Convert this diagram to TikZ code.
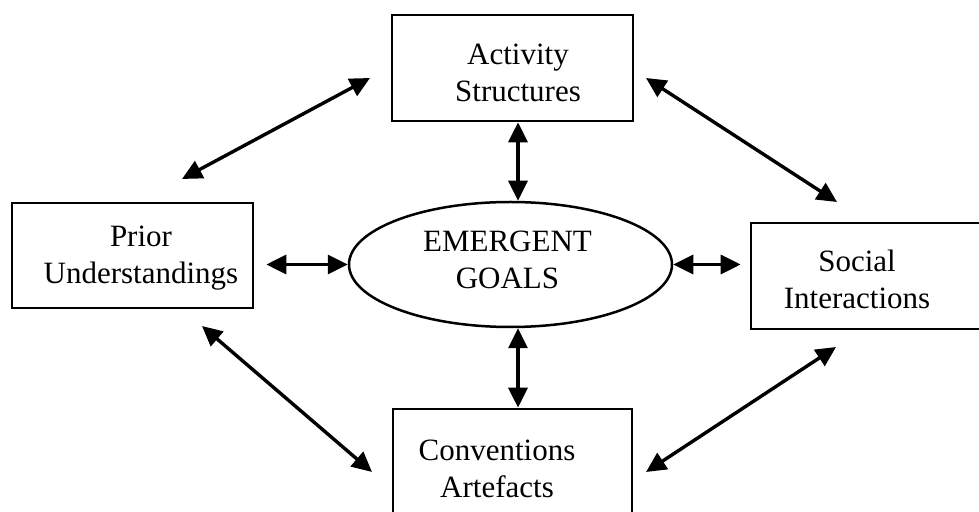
\documentclass[tikz,border=0pt]{standalone}
\usepackage{fontspec}
\setmainfont{Liberation Serif}
\usetikzlibrary{arrows.meta,shapes.geometric}
\begin{document}
\begin{tikzpicture}[x=1pt,y=1pt,
  box/.style={draw,line width=2.7pt,rectangle,inner sep=0pt},
  ell/.style={draw,line width=2.5pt,ellipse,inner sep=0pt},
  txt/.style={align=center,inner sep=0pt,font=\fontsize{31}{37}\selectfont},
  arr/.style={line width=3.4pt,{Triangle[length=20pt,width=19pt]}-{Triangle[length=20pt,width=19pt]}}]
\useasboundingbox (0,0) rectangle (979,511);
\clip (0,0) rectangle (979,511);
\node[box,minimum width=241pt,minimum height=106pt] (act) at (512.5,443) {};
\node[box,minimum width=241pt,minimum height=105pt] (prior) at (132.5,255.5) {};
\node[box,minimum width=240pt,minimum height=106pt] (soc) at (871,235) {};
\node[box,minimum width=239pt,minimum height=110pt] (conv) at (512.5,47) {};
\node[ell,minimum width=323pt,minimum height=125pt] (goal) at (510.5,246.5) {};
\node[txt] (actT) at (518,438) {Activity\\Structures};
\node[txt] (priorT) at (141,252.5) {Prior\\Understandings};
\node[txt] (socT) at (857,231.5) {Social\\Interactions};
\node[txt] (convT) at (497,42) {Conventions\\Artefacts};
\node[txt] (goalT) at (507.5,251.5) {EMERGENT\\GOALS};
\coordinate (vx) at (518,0);
\coordinate (pl) at ([xshift=12pt]prior.east);
\coordinate (sr) at ([xshift=-9pt]soc.west);
\draw[arr] (act.south -| vx) -- (goal.north -| vx);
\draw[arr] (goal.south -| vx) -- (conv.north -| vx);
\draw[arr] (pl |- goal.west) -- (goal.west);
\draw[arr] (goal.east) -- (sr |- goal.east);
\coordinate (a1) at (182,332);
\coordinate (a2) at (370,433);
\coordinate (b1) at (646,433);
\coordinate (b2) at (837,309);
\coordinate (c1) at (202,185);
\coordinate (c2) at (372,39);
\coordinate (d1) at (646,39);
\coordinate (d2) at (836,164);
\draw[arr] (a1) -- (a2);
\draw[arr] (b1) -- (b2);
\draw[arr] (c1) -- (c2);
\draw[arr] (d1) -- (d2);
\end{tikzpicture}
\end{document}
